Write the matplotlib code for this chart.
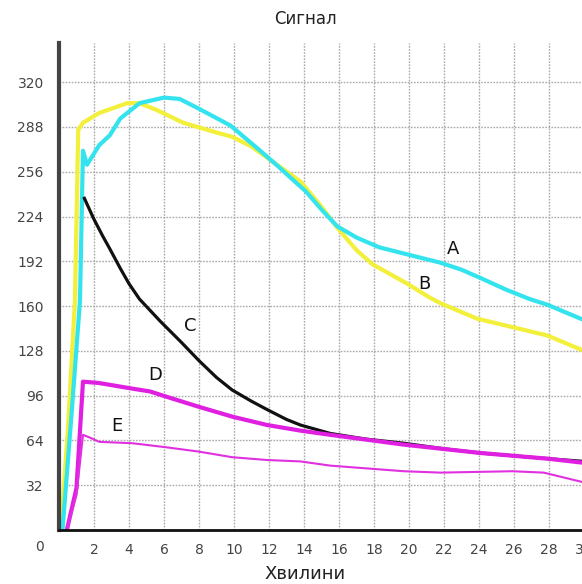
import matplotlib.pyplot as plt

# curve values (minutes, signal)
a_x = [0.2, 0.7, 1.2, 1.37, 1.6, 2.3, 2.9, 3.5, 4.6, 6.0, 6.9, 8.0, 9.8, 11.5, 12.6, 13.3, 14.1, 15.0, 15.9, 17.0, 18.3, 20.2, 21.8, 23.0, 24.1, 25.5, 26.9, 27.9, 30.0]
a_y = [0, 80, 164, 271, 261, 275, 282, 294, 305, 309, 308, 301, 289, 271, 259, 251, 242, 229, 217, 209, 202, 196, 191, 186, 180, 172, 165, 161, 150]

b_x = [0.1, 0.5, 0.91, 1.1, 1.37, 2.3, 3.9, 4.6, 5.6, 7.1, 9.0, 9.9, 11.0, 11.9, 13.8, 15.0, 15.9, 17.0, 17.9, 19.9, 21.2, 21.8, 23.9, 25.9, 27.9, 30.0]
b_y = [0, 70, 164, 286, 291, 298, 305, 305, 300, 291, 284, 281, 274, 266, 249, 231, 216, 200, 190, 176, 166, 162, 151, 145, 139, 128]

c_x = [1.45, 2.0, 2.5, 2.9, 3.5, 4.0, 4.6, 5.2, 5.8, 6.2, 7.0, 8.0, 9.0, 9.9, 11.0, 11.9, 13.0, 13.8, 15.5, 17.5, 19.7, 22.0, 24.1, 26.0, 27.9, 30.0]
c_y = [237, 222, 210, 201, 187, 176, 165, 157, 149, 144, 134, 121, 109, 100, 92, 86, 79, 75, 69, 65, 62, 58, 55, 53, 51, 49]

d_x = [0.45, 1.0, 1.37, 2.3, 4.2, 5.2, 6.2, 8.0, 9.9, 11.9, 13.8, 15.5, 19.7, 24.1, 27.9, 30.0]
d_y = [0, 30, 106, 105, 101, 99, 95, 88, 81, 75, 71, 68, 61, 55, 51, 48]

e_x = [0.45, 1.0, 1.37, 1.77, 2.3, 4.2, 6.2, 8.0, 9.9, 11.9, 13.8, 15.5, 19.7, 21.8, 25.9, 27.7, 30.0]
e_y = [0, 25, 68, 66, 63, 62, 59, 56, 52, 50, 49, 46, 42, 41, 42, 41, 34]

names = ['A', 'B', 'C', 'D', 'E']
label_pos = [(22.5, 201), (20.9, 176), (7.5, 146), (5.5, 111), (3.3, 74)]

x_ticks = list(range(2, 31, 2))
y_ticks = list(range(32, 321, 32))

fig = plt.figure(figsize=(5.82, 5.84), dpi=100)
ax = fig.add_axes([59 / 582, 54 / 584, 525 / 582, 487 / 584])

ax.plot(b_x, b_y, color='#f2f03a', lw=3)
ax.plot(a_x, a_y, color='#33e4ee', lw=3)
ax.plot(c_x, c_y, color='#111111', lw=2.3)
ax.plot(d_x, d_y, color='#e020e0', lw=3)
ax.plot(e_x, e_y, color='#e030e0', lw=1.5)

for n, (lx, ly) in zip(names, label_pos):
    ax.text(lx, ly, n, fontsize=13, ha='center', va='center', color='#111111')

ax.set_xlim(0, 30)
ax.set_ylim(0, 348)
ax.set_xticks(x_ticks)
ax.set_yticks(y_ticks)
ax.tick_params(length=0, labelsize=10, labelcolor='#444444')
ax.tick_params(axis='x', pad=9)
ax.tick_params(axis='y', pad=11)
ax.grid(True, color='#aaaaaa', linestyle=(0, (1.2, 1.0)), lw=1.0)

for s in ['top', 'right']:
    ax.spines[s].set_visible(False)
ax.spines['left'].set_linewidth(3)
ax.spines['left'].set_color('#444444')
ax.spines['bottom'].set_linewidth(2)
ax.spines['bottom'].set_color('#111111')

ax.text(-1.09, -12, '0', fontsize=10, color='#444444', ha='center', va='center', clip_on=False)

fig.text(305 / 582, 1 - 19 / 584, 'Сигнал', fontsize=12, ha='center', va='center', color='#222222')
fig.text(305 / 582, 1 - 574 / 584, 'Хвилини', fontsize=13, ha='center', va='center', color='#222222')

fig.savefig('out.png', dpi=100)
